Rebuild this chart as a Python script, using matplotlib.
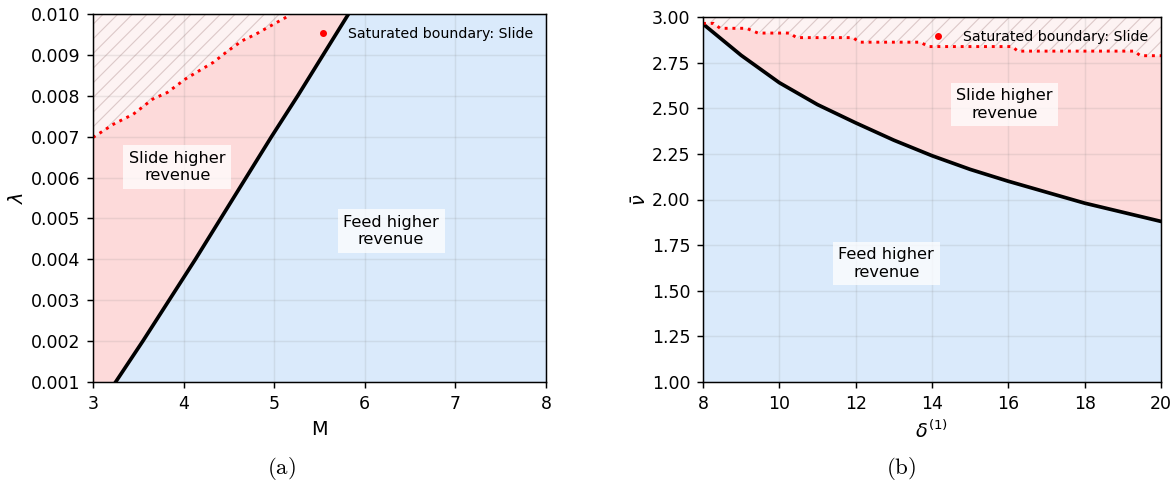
import numpy as np
import matplotlib
matplotlib.use('Agg')
import matplotlib.pyplot as plt
from matplotlib.lines import Line2D
from matplotlib.ticker import FormatStrFormatter

# (a) boundary between Feed and Slide in (M, lambda)
lam_levels = [0.001, 0.002, 0.003, 0.004, 0.005, 0.006, 0.007, 0.008, 0.009, 0.010]
M_boundary = [3.25, 3.55, 3.84, 4.13, 4.41, 4.69, 4.97, 5.26, 5.54, 5.82]

# (a) saturated boundary (Slide)
sat_M = [3.0, 3.23, 3.445, 3.66, 3.82, 4.02, 4.17, 4.33, 4.49, 4.65, 4.80, 4.96, 5.18]
sat_lam = [0.00698, 0.00731, 0.00755, 0.00792, 0.00808, 0.00841, 0.00861,
           0.00882, 0.00910, 0.00935, 0.00951, 0.00971, 0.00998]

# (b) boundary in (delta, nu_bar)
delta = [8, 9, 10, 11, 12, 13, 14, 15, 16, 17, 18, 19, 20]
nu_boundary = [2.962, 2.79, 2.64, 2.52, 2.42, 2.325, 2.24, 2.165, 2.10, 2.04, 1.98, 1.93, 1.88]

# (b) saturated boundary (Slide), staircase
sat_delta = [8.0, 8.28, 8.45, 9.14, 9.44, 10.27, 10.45, 11.93, 12.1, 13.7,
             13.9, 16.1, 16.25, 19.3, 19.46, 20.0]
sat_nu = [2.965, 2.965, 2.938, 2.938, 2.912, 2.912, 2.887, 2.887, 2.862, 2.862,
          2.838, 2.838, 2.813, 2.813, 2.788, 2.788]

pink = '#fddada'
blue = '#daeafb'
hatch_bg = '#fdf3f3'
hatch_col = '#dcc8c8'

plt.rcParams['hatch.linewidth'] = 0.6

fig = plt.figure(figsize=(1173 / 132, 486 / 132), dpi=132)
ax1 = fig.add_axes([93 / 1173, 104 / 486, 453 / 1173, 368 / 486])
ax2 = fig.add_axes([703 / 1173, 104 / 486, 458 / 1173, 365 / 486])

box = dict(boxstyle='square,pad=0.35', facecolor='white', edgecolor='none', alpha=0.75)
sat_handle = Line2D([], [], color='red', marker='o', markersize=2.8, linestyle='none')

# Panel (a)
ax1.fill_betweenx(lam_levels, M_boundary, 8, color=blue, linewidth=0)
ax1.fill_betweenx(lam_levels, 3, M_boundary, color=pink, linewidth=0)
ax1.fill_between(sat_M, sat_lam, 0.010, facecolor=hatch_bg, edgecolor=hatch_col,
                 hatch='///', linewidth=0)
ax1.plot(M_boundary, lam_levels, color='black', linewidth=2.0)
ax1.plot(sat_M, sat_lam, color='red', linestyle=':', linewidth=1.6)
ax1.text(3.93, 0.00626, 'Slide higher\nrevenue', ha='center', va='center',
         fontsize=8.8, bbox=box)
ax1.text(6.29, 0.0047, 'Feed higher\nrevenue', ha='center', va='center',
         fontsize=8.8, bbox=box)
ax1.legend([sat_handle], ['Saturated boundary: Slide'], loc='upper right',
           frameon=False, fontsize=7.7)
ax1.set_xlim(3, 8)
ax1.set_ylim(0.001, 0.010)
ax1.set_xticks([3, 4, 5, 6, 7, 8])
ax1.set_yticks(lam_levels)
ax1.yaxis.set_major_formatter(FormatStrFormatter('%.3f'))
ax1.set_xlabel('M', fontsize=10.5)
ax1.set_ylabel(r'$\lambda$', fontsize=10.5, labelpad=2)

# Panel (b)
ax2.fill_between(delta, 1, nu_boundary, color=blue, linewidth=0)
ax2.fill_between(delta, nu_boundary, 3, color=pink, linewidth=0)
ax2.fill_between(sat_delta, sat_nu, 3, facecolor=hatch_bg, edgecolor=hatch_col,
                 hatch='///', linewidth=0)
ax2.plot(delta, nu_boundary, color='black', linewidth=2.0)
ax2.plot(sat_delta, sat_nu, color='red', linestyle=':', linewidth=1.6)
ax2.text(15.9, 2.52, 'Slide higher\nrevenue', ha='center', va='center',
         fontsize=8.8, bbox=box)
ax2.text(12.8, 1.65, 'Feed higher\nrevenue', ha='center', va='center',
         fontsize=8.8, bbox=box)
ax2.legend([sat_handle], ['Saturated boundary: Slide'], loc='upper right',
           frameon=False, fontsize=7.7)
ax2.set_xlim(8, 20)
ax2.set_ylim(1.0, 3.0)
ax2.set_xticks([8, 10, 12, 14, 16, 18, 20])
ax2.set_yticks([1.0, 1.25, 1.5, 1.75, 2.0, 2.25, 2.5, 2.75, 3.0])
ax2.yaxis.set_major_formatter(FormatStrFormatter('%.2f'))
ax2.set_xlabel(r'$\delta^{(1)}$', fontsize=10.5)
ax2.set_ylabel(r'$\bar{\nu}$', fontsize=10.5, labelpad=1)

for ax in (ax1, ax2):
    ax.grid(True, color='gray', alpha=0.15, linewidth=0.8)
    ax.tick_params(labelsize=9.5)

fig.text(281 / 1173, 17 / 486, r'$\mathrm{(a)}$', ha='center', va='center',
         fontsize=12.5, math_fontfamily='cm')
fig.text(901 / 1173, 17 / 486, r'$\mathrm{(b)}$', ha='center', va='center',
         fontsize=12.5, math_fontfamily='cm')

fig.savefig('out.png', dpi=132)
